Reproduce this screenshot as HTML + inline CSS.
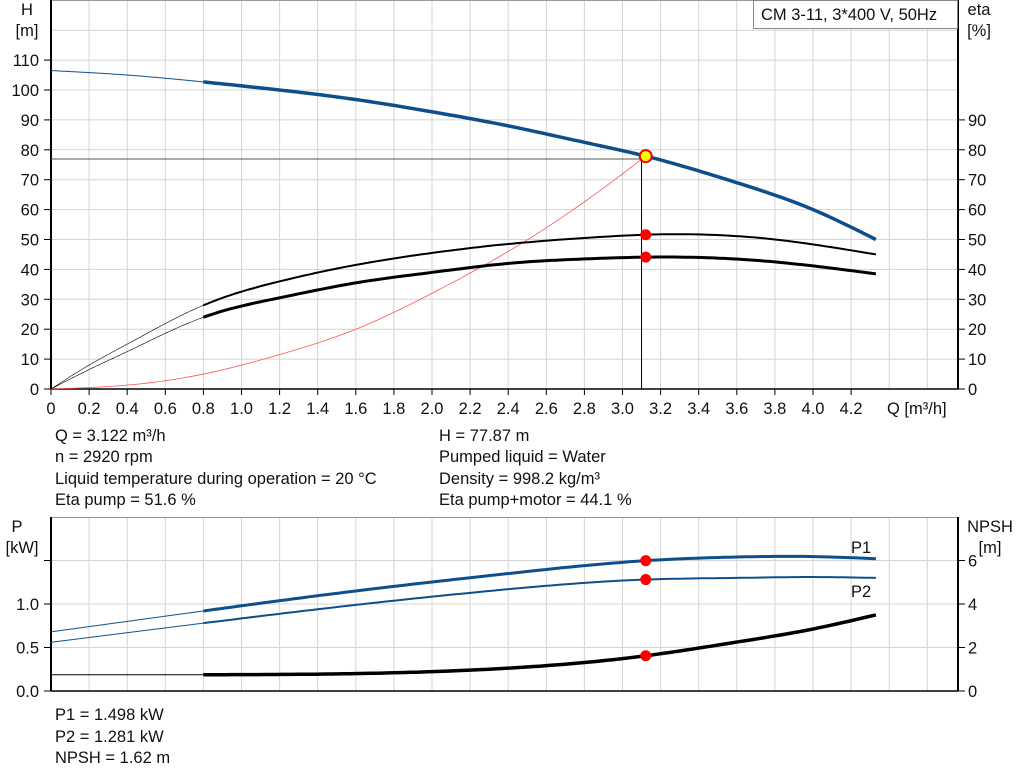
<!DOCTYPE html>
<html><head><meta charset="utf-8"><style>
body{margin:0;background:#fff;}
svg{display:block;font-family:"Liberation Sans",sans-serif;}
text{fill:#111;font-size:16.5px;}
</style></head><body>
<svg id="c" width="1024" height="781" xmlns="http://www.w3.org/2000/svg"></svg>
<script>
const flowQ=[0,0.4,0.8,1.2,1.6,2.0,2.4,2.8,3.122,3.6,4.0,4.33];
const headH=[106.5,105,102.7,100,96.8,92.7,88,82.5,77.87,69,60,50];
const etaQ=[0,0.2,0.4,0.8,1.2,1.6,2.0,2.4,2.8,3.122,3.4,3.8,4.33];
const etaPump=[0,8,15,28,36,41.5,45.5,48.5,50.5,51.6,51.7,50,45];
const etaTotal=[0,6.5,12.5,24,30.5,35.5,39,42,43.5,44.1,44,42.5,38.5];
const sysQ=[0,0.4,0.8,1.2,1.6,2.0,2.4,2.8,3.122];
const sysH=[0,1.3,5,11.5,20,32,46,62.6,77.87];
const powQ=[0,0.8,1.6,2.4,3.122,3.6,4.0,4.33];
const p1=[0.68,0.92,1.15,1.35,1.498,1.54,1.545,1.52];
const p2=[0.56,0.78,0.99,1.17,1.281,1.30,1.31,1.30];
const npsh=[0.75,0.75,0.8,1.05,1.62,2.25,2.85,3.5];
const dutyQ=3.122, dutyH=77.87, dutyEta=51.6, dutyEtaT=44.1, dutyP1=1.498, dutyP2=1.281, dutyNPSH=1.62;
const xTicks=["0","0.2","0.4","0.6","0.8","1.0","1.2","1.4","1.6","1.8","2.0","2.2","2.4","2.6","2.8","3.0","3.2","3.4","3.6","3.8","4.0","4.2"];
const hTicks=[0,10,20,30,40,50,60,70,80,90,100,110];
const etaTicks=[0,10,20,30,40,50,60,70,80,90];
const pTicks=["0.0","0.5","1.0"];
const npshTicks=[0,2,4,6];

const S=document.getElementById('c'),NS='http://www.w3.org/2000/svg';
function el(t,a,p){const e=document.createElementNS(NS,t);for(const k in a)e.setAttribute(k,a[k]);(p||S).appendChild(e);return e;}
const L=51,R=958;
const xs=q=>L+q*190.5;
const ys=h=>389-h*2.99;
const yp=p=>691-p*87;
const yn=n=>691-n*21.75;
function spline(xv,yv){const n=xv.length,h=[],al=[],l=[1],mu=[0],z=[0],c=new Array(n).fill(0),b=[],d=[];
 for(let i=0;i<n-1;i++)h.push(xv[i+1]-xv[i]);
 for(let i=1;i<n-1;i++)al[i]=3/h[i]*(yv[i+1]-yv[i])-3/h[i-1]*(yv[i]-yv[i-1]);
 for(let i=1;i<n-1;i++){l[i]=2*(xv[i+1]-xv[i-1])-h[i-1]*mu[i-1];mu[i]=h[i]/l[i];z[i]=(al[i]-h[i-1]*z[i-1])/l[i];}
 for(let j=n-2;j>=0;j--){c[j]=(j<n-1&&j>0?z[j]:0)-mu[j]*c[j+1];if(j===0)c[0]=0;b[j]=(yv[j+1]-yv[j])/h[j]-h[j]*(c[j+1]+2*c[j])/3;d[j]=(c[j+1]-c[j])/(3*h[j]);}
 return x=>{let i=0;while(i<n-2&&x>xv[i+1])i++;const t=x-xv[i];return yv[i]+b[i]*t+c[i]*t*t+d[i]*t*t*t;};}
function path(qs,vs,fx,fy,from,to){const f=spline(qs,vs);const a=Math.max(from,qs[0]),b=Math.min(to,qs[qs.length-1]);let d='';
 const N=120;for(let j=0;j<=N;j++){const q=a+(b-a)*j/N;d+=(j?'L':'M')+fx(q).toFixed(1)+' '+fy(f(q)).toFixed(1);}return d;}
const g1=el('g',{});


for(let i=1;i<=23;i++){const x=xs(i*0.2);el('line',{x1:x,x2:x,y1:0,y2:389,stroke:'#d4d4d4'},g1);}
for(let v=10;v<=120;v+=10)el('line',{x1:L,x2:R,y1:ys(v),y2:ys(v),stroke:'#d4d4d4'},g1);
const g2=el('g',{});


for(let i=1;i<=23;i++){const x=xs(i*0.2);el('line',{x1:x,x2:x,y1:517,y2:691,stroke:'#d4d4d4'},g2);}
for(let v=0.5;v<=1.5;v+=0.5)el('line',{x1:L,x2:R,y1:yp(v),y2:yp(v),stroke:'#d4d4d4'},g2);
el('line',{x1:L,x2:R,y1:0.5,y2:0.5,stroke:'#999'});
el('line',{x1:L,x2:R,y1:517.5,y2:517.5,stroke:'#999'});
[[L,0,389],[R,0,389],[L,517,691],[R,517,691]].forEach(a=>el('line',{x1:a[0],x2:a[0],y1:a[1],y2:a[2],stroke:'#000','stroke-width':2}));
el('line',{x1:L,x2:R,y1:389,y2:389,stroke:'#000','stroke-width':1.5});
el('line',{x1:L,x2:R,y1:691,y2:691,stroke:'#000','stroke-width':1.5});
xTicks.forEach((t,i)=>{const x=xs(i*0.2);el('line',{x1:x,x2:x,y1:389,y2:395,stroke:'#000'});const e=el('text',{x:x,y:414,'text-anchor':'middle'});e.textContent=t;});
hTicks.forEach(v=>{el('line',{x1:L-7,x2:L,y1:ys(v),y2:ys(v),stroke:'#000'});const e=el('text',{x:39,y:ys(v)+6,'text-anchor':'end'});e.textContent=v;});
etaTicks.forEach(v=>{el('line',{x1:R,x2:R+7,y1:ys(v),y2:ys(v),stroke:'#000'});const e=el('text',{x:968,y:ys(v)+6});e.textContent=v;});
pTicks.forEach((t,i)=>{el('line',{x1:L-7,x2:L,y1:yp(i*0.5),y2:yp(i*0.5),stroke:'#000'});const e=el('text',{x:39,y:yp(i*0.5)+6,'text-anchor':'end'});e.textContent=t;});
el('line',{x1:L-7,x2:L,y1:yp(1.5),y2:yp(1.5),stroke:'#000'});
npshTicks.forEach(v=>{el('line',{x1:R,x2:R+7,y1:yn(v),y2:yn(v),stroke:'#000'});const e=el('text',{x:968,y:yn(v)+6});e.textContent=v;});
function txt(x,y,s,name,anchor){const e=el('text',{x:x,y:y});if(anchor)e.setAttribute('text-anchor',anchor);e.textContent=s;return e;}
txt(27,15,'H','h-axis-title','middle');txt(27,36,'[m]','h-axis-unit','middle');
txt(979,15,'eta','eta-axis-title','middle');txt(979,36,'[%]','eta-axis-unit','middle');
txt(887,414,'Q [m³/h]','x-axis-title');
txt(17,532,'P','p-axis-title','middle');txt(22,553,'[kW]','p-axis-unit','middle');
txt(990,532,'NPSH','npsh-axis-title','middle');txt(990,553,'[m]','npsh-axis-unit','middle');
const lb=el('rect',{x:753.5,y:0.5,width:204,height:28,fill:'#fff',stroke:'#888'});

txt(761,20,'CM 3-11, 3*400 V, 50Hz','pump-model-label');
el('line',{x1:L,x2:xs(3.1),y1:159,y2:159,stroke:'#555'});
el('line',{x1:xs(3.1),x2:xs(3.1),y1:157,y2:389,stroke:'#000'});
function curve(qs,vs,fx,fy,col,name,thin,thick){
 const g=el('g',{});
 el('path',{d:path(qs,vs,fx,fy,0,0.8),fill:'none',stroke:col,'stroke-width':thin},g);
 el('path',{d:path(qs,vs,fx,fy,0.8,5),fill:'none',stroke:col,'stroke-width':thick},g);}
const sp=el('path',{d:path(sysQ,sysH,xs,ys,0,5),fill:'none',stroke:'#f55','stroke-width':0.8});

curve(flowQ,headH,xs,ys,'#0d4f8b','head-curve',1,3.5);
curve(etaQ,etaPump,xs,ys,'#000','eta-pump-curve',0.6,2);
curve(etaQ,etaTotal,xs,ys,'#000','eta-total-curve',0.6,3);
curve(powQ,p1,xs,yp,'#0d4f8b','p1-curve',1,3);
curve(powQ,p2,xs,yp,'#0d4f8b','p2-curve',1,2);
curve(powQ,npsh,xs,yn,'#000','npsh-curve',1,3.5);
function dot(y,name,yellow){const c=el('circle',{cx:xs(dutyQ),cy:y,r:yellow?6:5.5,fill:yellow?'#ff0':'#f00',stroke:yellow?'#e00':'none','stroke-width':2});}
dot(ys(dutyEta),'eta-pump-point');dot(ys(dutyEtaT),'eta-total-point');
dot(ys(dutyH),'duty-point',true);
dot(yp(dutyP1),'p1-point');dot(yp(dutyP2),'p2-point');dot(yn(dutyNPSH),'npsh-point');
txt(851,553,'P1','p1-label');txt(851,597,'P2','p2-label');
const info=[[55,441,'Q = 3.122 m³/h'],[55,462,'n = 2920 rpm'],[55,484,'Liquid temperature during operation = 20 °C'],[55,505,'Eta pump = 51.6 %'],
[439,441,'H = 77.87 m'],[439,462,'Pumped liquid = Water'],[439,484,'Density = 998.2 kg/m³'],[439,505,'Eta pump+motor = 44.1 %'],
[55,720,'P1 = 1.498 kW'],[55,742,'P2 = 1.281 kW'],[55,763,'NPSH = 1.62 m']];
info.forEach(a=>txt(a[0],a[1],a[2],'info-text'));
</script>
</body></html>
